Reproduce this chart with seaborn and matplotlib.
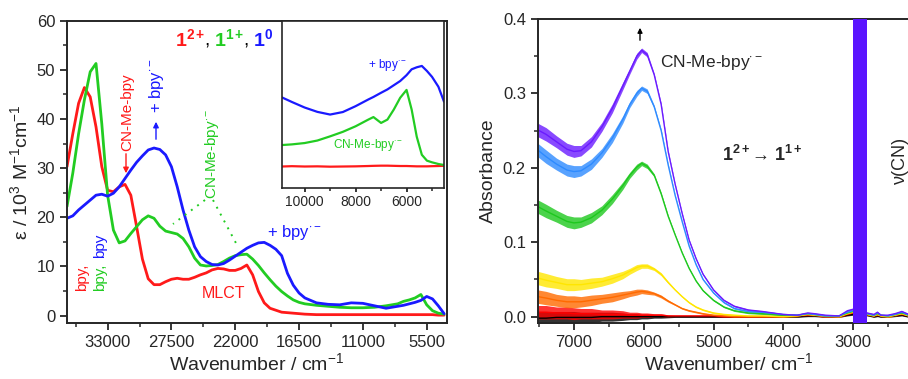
import matplotlib
matplotlib.use('Agg')
import matplotlib.pyplot as plt
from matplotlib.ticker import MultipleLocator, FormatStrFormatter
import numpy as np
import pandas as pd
import seaborn as sns

# ---- left panel: UV-vis-NIR spectra (epsilon / 10^3 M-1 cm-1) ----
uv_wn = [36500, 36000, 35500, 35000, 34500, 34000, 33500, 33000, 32500, 32000,
         31500, 31000, 30500, 30000, 29500, 29000, 28500, 28000, 27500, 27000,
         26500, 26000, 25500, 25000, 24500, 24000, 23500, 23000, 22500, 22000,
         21500, 21000, 20500, 20000, 19500, 19000, 18500, 18000, 17500, 17000,
         16500, 16000, 15000, 14000, 13000, 12000, 11000, 10000, 9000, 8000,
         7500, 7000, 6500, 6000, 5500, 5000, 4500, 4000]
uv_red = [30.3, 37.0, 43.2, 46.4, 44.5, 38.4, 30.3, 25.5, 25.2, 26.2,
          26.7, 24.5, 18.1, 11.5, 7.5, 6.3, 6.3, 6.9, 7.4, 7.6,
          7.4, 7.4, 7.8, 8.3, 8.7, 9.3, 9.6, 9.5, 9.2, 9.2,
          9.6, 10.3, 8.3, 4.9, 2.6, 1.5, 1.1, 0.7, 0.6, 0.5,
          0.4, 0.3, 0.2, 0.2, 0.2, 0.2, 0.2, 0.2, 0.2, 0.2,
          0.2, 0.2, 0.2, 0.2, 0.2, 0.2, 0.1, 0.1]
uv_green = [22.2, 29.0, 37.0, 43.9, 49.6, 51.3, 39.0, 24.5, 17.4, 14.8,
            15.2, 16.7, 18.1, 19.5, 20.3, 19.8, 18.2, 17.2, 16.9, 16.6,
            15.7, 14.0, 11.7, 10.3, 10.1, 10.2, 10.4, 11.0, 11.7, 12.2,
            12.4, 12.5, 11.5, 10.2, 8.7, 7.3, 6.0, 4.9, 4.0, 3.2,
            2.7, 2.4, 2.1, 1.9, 1.7, 1.6, 1.6, 1.7, 2.0, 2.4,
            2.9, 3.2, 3.6, 4.3, 2.2, 1.0, 0.5, 0.3]
uv_blue = [19.8, 20.3, 21.5, 22.5, 23.5, 24.5, 24.7, 24.3, 24.9, 26.2,
           27.9, 29.6, 31.2, 32.5, 33.7, 34.1, 33.8, 32.7, 30.3, 26.2,
           21.5, 17.4, 14.0, 12.0, 11.0, 10.4, 10.3, 10.6, 11.3, 12.1,
           12.9, 13.7, 14.3, 14.8, 14.9, 14.3, 13.5, 12.2, 8.6, 6.2,
           4.6, 3.6, 2.6, 2.3, 2.2, 2.6, 2.5, 2.0, 1.5, 1.9,
           2.1, 2.4, 2.7, 3.1, 3.9, 3.4, 2.0, 0.4]

# ---- inset: NIR region (arbitrary units) ----
nir_wn = [10900, 10500, 10000, 9500, 9000, 8500, 8000, 7500, 7300, 7000, 6750,
          6500, 6250, 6000, 5800, 5600, 5400, 5200, 5000, 4750, 4530]
nir_red = [0.130, 0.132, 0.130, 0.131, 0.129, 0.130, 0.131, 0.133, 0.134, 0.135, 0.135,
           0.134, 0.133, 0.133, 0.132, 0.131, 0.131, 0.131, 0.132, 0.133, 0.134]
nir_green = [0.258, 0.262, 0.270, 0.285, 0.310, 0.337, 0.370, 0.410, 0.425, 0.390, 0.410,
             0.470, 0.540, 0.587, 0.470, 0.308, 0.200, 0.165, 0.155, 0.145, 0.139]
nir_blue = [0.543, 0.515, 0.482, 0.456, 0.440, 0.455, 0.490, 0.530, 0.545, 0.570, 0.590,
            0.615, 0.640, 0.675, 0.710, 0.722, 0.730, 0.700, 0.665, 0.606, 0.517]

# ---- right panel: IR spectroelectrochemistry (absorbance) ----
ir_wn = [7520, 7400, 7250, 7100, 7000, 6900, 6750, 6600, 6450, 6300, 6200, 6100,
         6030, 5950, 5850, 5750, 5650, 5550, 5450, 5350, 5250, 5150, 5000, 4850,
         4700, 4500, 4300, 4000, 3800, 3650, 3550, 3400, 3200, 3080, 3000,
         2800, 2700, 2650, 2600, 2500, 2400, 2300, 2200, 2100, 2040]
ir_violet = [0.251, 0.245, 0.235, 0.225, 0.222, 0.223, 0.235, 0.255, 0.280, 0.310, 0.330, 0.350,
             0.358, 0.352, 0.325, 0.285, 0.222, 0.178, 0.139, 0.103, 0.078, 0.057, 0.036, 0.022,
             0.014, 0.009, 0.007, 0.003, 0.002, 0.005, 0.004, 0.002, 0.001, 0.008, 0.010,
             0.005, 0.003, 0.006, 0.002, 0.002, 0.004, 0.007, 0.003, 0.002, 0.002]
ir_blue = [0.224, 0.215, 0.205, 0.197, 0.195, 0.196, 0.205, 0.220, 0.240, 0.265, 0.285, 0.300,
           0.307, 0.303, 0.282, 0.250, 0.204, 0.163, 0.128, 0.095, 0.070, 0.050, 0.032, 0.019,
           0.011, 0.007, 0.006, 0.003, 0.002, 0.004, 0.003, 0.001, 0.001, 0.006, 0.008,
           0.004, 0.002, 0.005, 0.002, 0.001, 0.003, 0.006, 0.002, 0.001, 0.001]
ir_green = [0.148, 0.142, 0.135, 0.128, 0.126, 0.127, 0.133, 0.143, 0.158, 0.176, 0.190, 0.201,
            0.206, 0.202, 0.190, 0.165, 0.135, 0.110, 0.086, 0.065, 0.048, 0.035, 0.022, 0.013,
            0.008, 0.005, 0.004, 0.002, 0.002, 0.004, 0.003, 0.001, 0.001, 0.005, 0.007,
            0.004, 0.002, 0.004, 0.002, 0.001, 0.003, 0.005, 0.002, 0.001, 0.001]
ir_yellow = [0.052, 0.049, 0.046, 0.043, 0.043, 0.043, 0.045, 0.047, 0.051, 0.056, 0.061, 0.066,
             0.068, 0.068, 0.064, 0.057, 0.046, 0.036, 0.027, 0.019, 0.013, 0.009, 0.005, 0.003,
             0.002, 0.001, 0.001, 0.000, 0.001, 0.003, 0.002, 0.001, 0.000, 0.004, 0.006,
             0.003, 0.001, 0.003, 0.001, 0.000, 0.002, 0.004, 0.001, 0.000, 0.000]
ir_orange = [0.027, 0.025, 0.022, 0.020, 0.020, 0.020, 0.022, 0.024, 0.026, 0.029, 0.031, 0.033,
             0.034, 0.033, 0.031, 0.027, 0.021, 0.016, 0.011, 0.008, 0.006, 0.004, 0.002, 0.001,
             0.000, 0.000, 0.000, 0.000, 0.001, 0.003, 0.002, 0.000, 0.000, 0.004, 0.006,
             0.003, 0.001, 0.003, 0.001, 0.000, 0.002, 0.004, 0.001, 0.000, 0.000]
ir_red = [0.006, 0.006, 0.005, 0.005, 0.004, 0.004, 0.004, 0.003, 0.003, 0.003, 0.002, 0.002,
          0.002, 0.002, 0.002, 0.002, 0.001, 0.001, 0.001, 0.001, 0.001, 0.001, 0.001, 0.000,
          0.000, 0.000, 0.000, 0.000, 0.001, 0.002, 0.002, 0.000, 0.000, 0.003, 0.005,
          0.003, 0.001, 0.002, 0.001, 0.000, 0.002, 0.003, 0.001, 0.000, 0.000]
ir_black = [-0.002, -0.002, -0.001, -0.001, -0.001, -0.001, -0.001, 0.000, 0.000, 0.000, 0.000, 0.000,
            0.000, 0.000, 0.000, 0.000, 0.000, 0.000, 0.000, 0.000, 0.000, 0.000, 0.000, 0.000,
            0.000, 0.000, 0.000, 0.000, 0.000, 0.001, 0.001, 0.000, 0.000, 0.002, 0.003,
            0.002, 0.000, 0.001, 0.000, 0.000, 0.001, 0.002, 0.000, 0.000, 0.000]
# half-width of the noise band seen on the traces
ir_noise = [0.009, 0.009, 0.008, 0.008, 0.008, 0.007, 0.007, 0.006, 0.006, 0.005, 0.004, 0.004,
            0.003, 0.003, 0.002, 0.002, 0.0015, 0.001, 0.001, 0.001, 0.001, 0.001, 0.001, 0.001,
            0.001, 0.001, 0.001, 0.001, 0.001, 0.001, 0.001, 0.001, 0.001, 0.001, 0.001,
            0.001, 0.001, 0.001, 0.001, 0.001, 0.001, 0.001, 0.001, 0.001, 0.001]
cn_band = (3000, 2800)  # saturated nu(CN) region

uv_colors = {'1(2+)': '#ff1a1a', '1(1+)': '#22cc22', '1(0)': '#1a1aff'}
ir_colors = {'black': '#000000', 'red': '#ff0000', 'orange': '#ff6a00', 'yellow': '#ffe600',
             'green': '#1ec81e', 'blue': '#2e8bff', 'violet': '#6a1bff'}

sns.set_style('ticks')
plt.rcParams['font.family'] = ['Liberation Sans', 'DejaVu Sans']
plt.rcParams['mathtext.fontset'] = 'custom'
plt.rcParams['mathtext.rm'] = 'Liberation Sans'
plt.rcParams['mathtext.it'] = 'Liberation Sans:italic'
plt.rcParams['mathtext.bf'] = 'Liberation Sans:bold'
plt.rcParams['axes.linewidth'] = 1.4
plt.rcParams['xtick.major.width'] = 1.3
plt.rcParams['ytick.major.width'] = 1.3
plt.rcParams['xtick.minor.width'] = 1.1
plt.rcParams['ytick.minor.width'] = 1.1
plt.rcParams['xtick.major.size'] = 5
plt.rcParams['ytick.major.size'] = 5
plt.rcParams['xtick.minor.size'] = 3
plt.rcParams['ytick.minor.size'] = 3
plt.rcParams['xtick.labelsize'] = 12
plt.rcParams['ytick.labelsize'] = 12

W, H = 908, 379
fig = plt.figure(figsize=(W / 100, H / 100), dpi=100)


def fpos(x, y):
    # pixel position -> figure fraction
    return x / W, 1 - y / H


# ---------- left panel ----------
ax1 = fig.add_axes([67 / W, 1 - 323 / H, (447 - 67) / W, (323 - 20.7) / H])
df_uv = pd.DataFrame({
    'wn': uv_wn * 3,
    'eps': uv_red + uv_green + uv_blue,
    'complex': ['1(2+)'] * len(uv_wn) + ['1(1+)'] * len(uv_wn) + ['1(0)'] * len(uv_wn),
})
sns.lineplot(data=df_uv, x='wn', y='eps', hue='complex', palette=uv_colors,
             estimator=None, sort=False, lw=2.0, legend=False, ax=ax1)
ax1.set_xlim(36500, 3750)
ax1.set_ylim(-1.5, 60)
ax1.xaxis.set_major_locator(MultipleLocator(5500))
ax1.xaxis.set_minor_locator(MultipleLocator(2750))
ax1.yaxis.set_major_locator(MultipleLocator(10))
ax1.yaxis.set_minor_locator(MultipleLocator(5))
ax1.set_xlabel('Wavenumber / cm$^{-1}$', fontsize=14, labelpad=2)
ax1.set_ylabel('ε / 10$^{3}$ M$^{-1}$cm$^{-1}$', fontsize=14, labelpad=4)
for s in ax1.spines.values():
    s.set_visible(True)

# inset
axi = fig.add_axes([281.7 / W, 1 - 188.3 / H, (444 - 281.7) / W, (188.3 - 20.7) / H])
df_nir = pd.DataFrame({
    'wn': nir_wn * 3,
    'a': nir_red + nir_green + nir_blue,
    'complex': ['1(2+)'] * len(nir_wn) + ['1(1+)'] * len(nir_wn) + ['1(0)'] * len(nir_wn),
})
sns.lineplot(data=df_nir, x='wn', y='a', hue='complex', palette=uv_colors,
             estimator=None, sort=False, lw=1.6, legend=False, ax=axi)
axi.set_xlim(10900, 4530)
axi.set_ylim(0, 1)
axi.set_yticks([])
axi.xaxis.set_major_locator(MultipleLocator(2000))
axi.xaxis.set_minor_locator(MultipleLocator(1000))
axi.tick_params(axis='x', labelsize=10, length=3, pad=2)
axi.tick_params(axis='x', which='minor', length=2)
axi.set_xlabel('')
axi.set_ylabel('')
for s in axi.spines.values():
    s.set_linewidth(1.2)

# left panel labels
fs_t = 14
base_y = 46
fig.text(*fpos(175, base_y), r'$\mathbf{1^{2+}}$', color=uv_colors['1(2+)'], fontsize=fs_t, va='baseline')
fig.text(*fpos(204, base_y), ',', color='black', fontsize=fs_t, va='baseline')
fig.text(*fpos(214, base_y), r'$\mathbf{1^{1+}}$', color=uv_colors['1(1+)'], fontsize=fs_t, va='baseline')
fig.text(*fpos(243, base_y), ',', color='black', fontsize=fs_t, va='baseline')
fig.text(*fpos(253, base_y), r'$\mathbf{1^{0}}$', color=uv_colors['1(0)'], fontsize=fs_t, va='baseline')

fig.text(*fpos(127, 112), 'CN-Me-bpy', color=uv_colors['1(2+)'], fontsize=11,
         rotation=90, ha='center', va='center')
ax1.annotate('', xy=fpos(126, 176), xytext=fpos(126, 151), xycoords='figure fraction',
             textcoords='figure fraction',
             arrowprops=dict(arrowstyle='-|>', color=uv_colors['1(2+)'], lw=1.0, mutation_scale=8))
fig.text(*fpos(157, 86), r'+ bpy$^{\cdot -}$', color=uv_colors['1(0)'], fontsize=12,
         rotation=90, ha='center', va='center')
ax1.annotate('', xy=fpos(156, 119), xytext=fpos(156, 142), xycoords='figure fraction',
             textcoords='figure fraction',
             arrowprops=dict(arrowstyle='-|>', color=uv_colors['1(0)'], lw=1.0, mutation_scale=8))
fig.text(*fpos(212, 154), r'CN-Me-bpy$^{\cdot -}$', color=uv_colors['1(1+)'], fontsize=11,
         rotation=90, ha='center', va='center')
for x0, y0, x1_, y1_ in [(205, 200, 173, 224), (213, 200, 237, 245)]:
    ax1.plot([x0 / W, x1_ / W], [1 - y0 / H, 1 - y1_ / H], transform=fig.transFigure,
             color=uv_colors['1(1+)'], lw=1.4, ls=(0, (1, 3)))
fig.text(*fpos(267, 233), r'+ bpy$^{\cdot -}$', color=uv_colors['1(0)'], fontsize=12,
         ha='left', va='center')
fig.text(*fpos(202, 294), 'MLCT', color=uv_colors['1(2+)'], fontsize=11.5, ha='left', va='center')
fig.text(*fpos(82, 277), 'bpy,', color=uv_colors['1(2+)'], fontsize=11,
         rotation=90, ha='center', va='center')
fig.text(*fpos(100, 277), 'bpy,', color=uv_colors['1(1+)'], fontsize=11,
         rotation=90, ha='center', va='center')
fig.text(*fpos(100, 246), 'bpy', color=uv_colors['1(0)'], fontsize=11,
         rotation=90, ha='center', va='center')
fig.text(*fpos(368, 65), r'+ bpy$^{\cdot -}$', color=uv_colors['1(0)'], fontsize=8.5,
         ha='left', va='center')
fig.text(*fpos(333, 145), r'CN-Me-bpy$^{\cdot -}$', color=uv_colors['1(1+)'], fontsize=8.5,
         ha='left', va='center')

# ---------- right panel ----------
ax2 = fig.add_axes([537.7 / W, 1 - 323 / H, (920 - 537.7) / W, (323 - 19) / H])
ir_traces = {'black': ir_black, 'red': ir_red, 'orange': ir_orange, 'yellow': ir_yellow,
             'green': ir_green, 'blue': ir_blue, 'violet': ir_violet}
rows = []
for name, vals in ir_traces.items():
    for w, v in zip(ir_wn, vals):
        rows.append((w, v, name))
df_ir = pd.DataFrame(rows, columns=['wn', 'abs', 'trace'])
for name, vals in ir_traces.items():
    v = np.array(vals)
    nz = np.array(ir_noise)
    ax2.fill_between(ir_wn, v - nz, v + nz, color=ir_colors[name], lw=0, alpha=0.8)
sns.lineplot(data=df_ir, x='wn', y='abs', hue='trace', palette=ir_colors,
             hue_order=list(ir_traces.keys()), estimator=None, sort=False,
             lw=1.0, legend=False, ax=ax2)
ax2.axvspan(cn_band[0], cn_band[1], color='#5a14ff', lw=0, zorder=5)
ax2.set_xlim(7520, 2040)
ax2.set_ylim(-0.0085, 0.4)
ax2.xaxis.set_major_locator(MultipleLocator(1000))
ax2.xaxis.set_minor_locator(MultipleLocator(500))
ax2.yaxis.set_major_locator(MultipleLocator(0.1))
ax2.yaxis.set_minor_locator(MultipleLocator(0.05))
ax2.yaxis.set_major_formatter(FormatStrFormatter('%.1f'))
ax2.set_xlabel('Wavenumber/ cm$^{-1}$', fontsize=14, labelpad=2)
ax2.set_ylabel('Absorbance', fontsize=14, labelpad=4)
for s in ax2.spines.values():
    s.set_visible(True)

ax2.annotate('', xy=fpos(640, 25), xytext=fpos(640, 43), xycoords='figure fraction',
             textcoords='figure fraction',
             arrowprops=dict(arrowstyle='-|>', color='black', lw=1.0, mutation_scale=7))
fig.text(*fpos(660, 62), r'CN-Me-bpy$^{\cdot -}$', fontsize=12.5, ha='left', va='center')
fig.text(*fpos(722, 161), r'$\mathbf{1^{2+}}$→ $\mathbf{1^{1+}}$', fontsize=13,
         ha='left', va='baseline')
fig.text(*fpos(900, 160), 'ν(CN)', fontsize=13, rotation=90, ha='center', va='center')

fig.savefig('out.png', dpi=100)
